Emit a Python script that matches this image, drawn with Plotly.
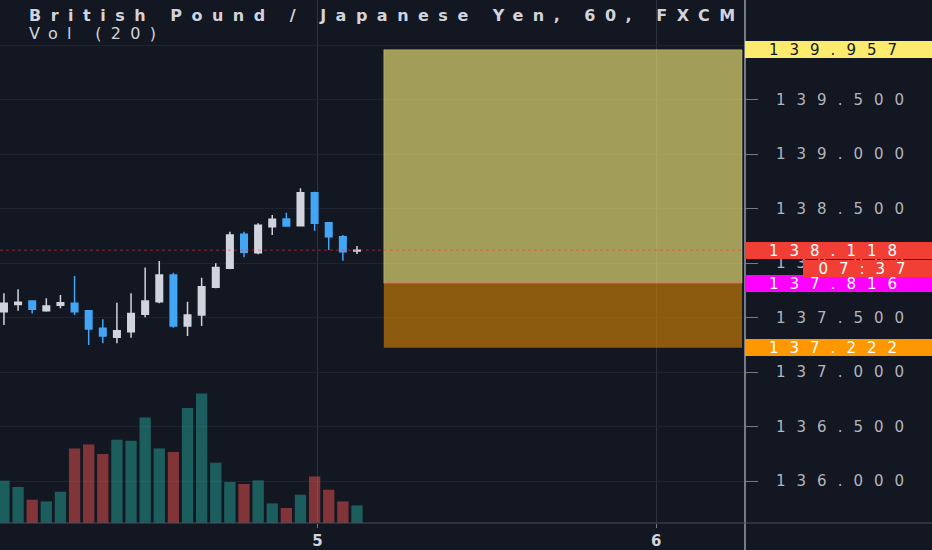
import plotly.graph_objects as go

# ---------------- data ----------------
hours = list(range(-22, 4))  # hourly bars, 0 = first bar of day 5
opens = [137.553, 137.620, 137.651, 137.563, 137.612, 137.630, 137.562, 137.401, 137.318, 137.370,
         137.529, 137.645, 137.890, 137.422, 137.523, 137.777, 137.951, 138.263, 138.095, 138.333,
         138.404, 138.342, 138.645, 138.370, 138.241, 138.110]
highs = [137.722, 137.759, 137.655, 137.676, 137.706, 137.881, 137.565, 137.484, 137.636, 137.722,
         137.960, 138.018, 137.911, 137.645, 137.865, 137.997, 138.287, 138.287, 138.364, 138.440,
         138.461, 138.685, 138.654, 138.372, 138.257, 138.156]
lows = [137.431, 137.562, 137.538, 137.553, 137.584, 137.523, 137.248, 137.263, 137.263, 137.315,
        137.502, 137.630, 137.406, 137.330, 137.422, 137.768, 137.942, 138.052, 138.080, 138.257,
        138.333, 138.342, 138.296, 138.119, 138.021, 138.083]
closes = [137.630, 137.640, 137.575, 137.606, 137.636, 137.553, 137.394, 137.330, 137.379, 137.538,
          137.651, 137.890, 137.422, 137.523, 137.783, 137.960, 138.257, 138.098, 138.346, 138.401,
          138.339, 138.645, 138.364, 138.241, 138.104, 138.118]
volumes = [423, 360, 233, 216, 313, 746, 786, 690, 833, 823, 1056, 746, 710, 1150, 1296, 603,
           410, 390, 426, 196, 150, 283, 466, 333, 216, 176]

price_ticks = [136.0, 136.5, 137.0, 137.5, 138.0, 138.5, 139.0, 139.5, 140.0]
price_tick_labels = ["136.000", "136.500", "137.000", "137.500", "138.000", "138.500",
                     "139.000", "139.500", ""]
day_ticks = [0.2, 24.2]
day_labels = ["5", "6"]

target_price = 139.957
entry_price = 137.816
stop_price = 137.222
last_price = 138.118
countdown = "07:37"
zone_start, zone_end = 4.9, 30.27

title_text = "British Pound / Japanese Yen, 60, FXCM"
vol_text = "Vol (20)"

# ---------------- style ----------------
BG = "#131722"
TXT = "#d1d4dc"
AX = "#787b86"
FONT = "DejaVu Sans"


def spaced(s, ls):
    return f'<span style="letter-spacing:{ls}px">{s}</span>'


vol_colors = ["rgba(38,166,154,0.5)" if c >= o else "rgba(239,83,80,0.5)"
              for o, c in zip(opens, closes)]

fig = go.Figure()
fig.add_trace(go.Bar(x=hours, y=volumes, yaxis="y2", width=0.8,
                     marker=dict(color=vol_colors, line=dict(width=0)), showlegend=False))
fig.add_trace(go.Candlestick(
    x=hours, open=opens, high=highs, low=lows, close=closes,
    increasing=dict(fillcolor="#d1d4dc", line=dict(color="#d1d4dc", width=1.5)),
    decreasing=dict(fillcolor="#42a5f5", line=dict(color="#42a5f5", width=1.5)),
    whiskerwidth=0, showlegend=False))

shapes = [
    dict(type="rect", xref="x", yref="y", x0=zone_start, x1=zone_end, y0=entry_price, y1=target_price,
         fillcolor="rgba(240,229,119,0.65)", line=dict(color="rgba(255,245,150,0.35)", width=1), layer="above"),
    dict(type="rect", xref="x", yref="y", x0=zone_start, x1=zone_end, y0=stop_price, y1=entry_price,
         fillcolor="rgba(205,126,5,0.65)", line=dict(width=0), layer="above"),
    dict(type="line", xref="x", yref="y", x0=zone_start, x1=zone_end, y0=entry_price, y1=entry_price,
         line=dict(color="rgba(242,70,90,0.8)", width=1), layer="above"),
    dict(type="line", xref="paper", yref="y", x0=0, x1=1, y0=last_price, y1=last_price,
         line=dict(color="rgba(242,54,69,0.55)", width=1, dash="dot"), layer="above"),
    dict(type="line", xref="paper", yref="paper", x0=1, x1=1, y0=-0.06, y1=1,
         line=dict(color=AX, width=2)),
    dict(type="line", xref="paper", yref="paper", x0=0, x1=1.26, y0=0, y1=0,
         line=dict(color="#4a4e5a", width=1)),
]

LS = 11
annotations = [
    dict(xref="paper", yref="paper", x=27 / 745, y=1 - 16 / 523, xanchor="left", yanchor="middle",
         text="<b>" + spaced(title_text, 9.5) + "</b>", showarrow=False,
         font=dict(family=FONT, size=16, color=TXT)),
    dict(xref="paper", yref="paper", x=27 / 745, y=1 - 33 / 523, xanchor="left", yanchor="middle",
         text=spaced(vol_text, 9.3), showarrow=False, font=dict(family=FONT, size=16, color=TXT)),
]
for price, bg, fg in [(target_price, "#fdeb6e", "#131722"), (last_price, "#f23f36", "#ffffff"),
                      (entry_price, "#ff00ff", "#ffffff"), (stop_price, "#ff9800", "#ffffff")]:
    annotations.append(dict(xref="paper", yref="y", x=1, y=price, xanchor="left", yanchor="middle",
                            text=spaced(f"{price:.3f}", LS), showarrow=False, width=183, height=13,
                            borderpad=2, borderwidth=0, bgcolor=bg, align="center",
                            font=dict(family=FONT, size=15, color=fg)))
annotations.append(dict(xref="paper", yref="y", x=803 / 745, y=last_price, yshift=-18,
                        xanchor="left", yanchor="middle", text=spaced(countdown, LS), showarrow=False,
                        width=125, height=13, borderpad=2, borderwidth=0, bgcolor="#f23f36",
                        align="center", font=dict(family=FONT, size=15, color="#ffffff")))

fig.update_layout(
    width=932, height=550,
    margin=dict(l=0, r=187, t=0, b=27),
    paper_bgcolor=BG, plot_bgcolor=BG,
    boxgap=0.34,
    shapes=shapes, annotations=annotations,
    xaxis=dict(range=[-22.28, 30.48], tickvals=day_ticks,
               ticktext=["<b>" + d + "</b>" for d in day_labels],
               ticks="outside", ticklen=4, tickcolor=AX, showgrid=True, gridcolor="#2e323e",
               gridwidth=1, zeroline=False, showline=False, rangeslider=dict(visible=False),
               tickfont=dict(family=FONT, size=15, color=TXT), fixedrange=True),
    yaxis=dict(range=[135.615, 140.413], side="right", tickvals=price_ticks,
               ticktext=[spaced(t, LS) for t in price_tick_labels],
               ticks="outside", ticklen=12, tickcolor=AX, showgrid=True, gridcolor="#1f2330",
               zeroline=False, showline=False, ticklabelstandoff=15,
               tickfont=dict(family=FONT, size=15, color="#b2b5be")),
    yaxis2=dict(range=[0, 5233], overlaying="y", visible=False, showgrid=False),
)

fig.write_html("out.html", config={"displayModeBar": False},
               post_script="document.body.style.margin='0';document.body.style.background='#131722';")
